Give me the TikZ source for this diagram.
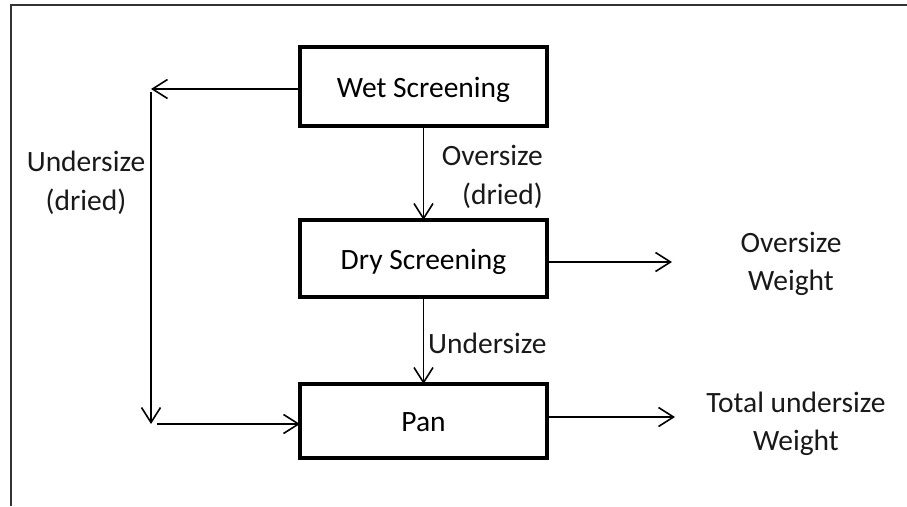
\documentclass[tikz,border=0pt]{standalone}
\usepackage{fontspec}
\setmainfont{Carlito}
\usetikzlibrary{arrows.meta}
\begin{document}
\begin{tikzpicture}[x=1pt,y=-1pt,
  box/.style={draw=black,line width=4pt,minimum width=247pt,inner sep=0pt,outer sep=0pt,text height=21pt,text depth=0pt,font=\fontsize{29.5}{38}\selectfont},
  arr/.style={draw=black,line width=1.6pt,-{Straight Barb[length=15pt,width=19pt,line width=1.6pt]}},
  lbl/.style={inner sep=0pt,font=\fontsize{29.5}{38.5}\selectfont,text=black!90}
]
\useasboundingbox (0,0) rectangle (907,506);
% frame (top and left edges)
\draw[line width=1.5pt,black!80] (907,5) -- (11,5) -- (11,506);

\node[box,minimum height=79pt] (wet) at (423.5,86.5) {Wet Screening};
\node[box,minimum height=77pt] (dry) at (423.5,258.5) {Dry Screening};
\node[box,minimum height=74pt] (pan) at (423.5,421) {Pan};

\coordinate (c1) at (151,89);
\coordinate (c2) at (151,424);
\coordinate (o1) at (672,262);
\coordinate (o2) at (675,417);

\draw[arr] (wet.west |- c1) -- (c1);
\draw[arr] ([yshift=-3pt]c1) -- (c2);
\draw[arr] ([xshift=6pt]c2) -- (pan.west |- c2);
\draw[arr] (wet.south) -- (dry.north);
\draw[arr] (dry.south) -- (pan.north);
\draw[arr] (dry.east |- o1) -- (o1);
\draw[arr] (pan.east |- o2) -- (o2);

\node[lbl,align=center] (ud) at (86,183) {Undersize\\(dried)};
\node[lbl,align=right,anchor=east] (od) at (543,177) {Oversize\\(dried)};
\node[lbl,anchor=west] (us) at (428,343) {Undersize};
\node[lbl,align=center] (ow) at (791,264) {Oversize\\Weight};
\node[lbl,align=center] (tw) at (796,424) {Total undersize\\Weight};
\end{tikzpicture}
\end{document}
